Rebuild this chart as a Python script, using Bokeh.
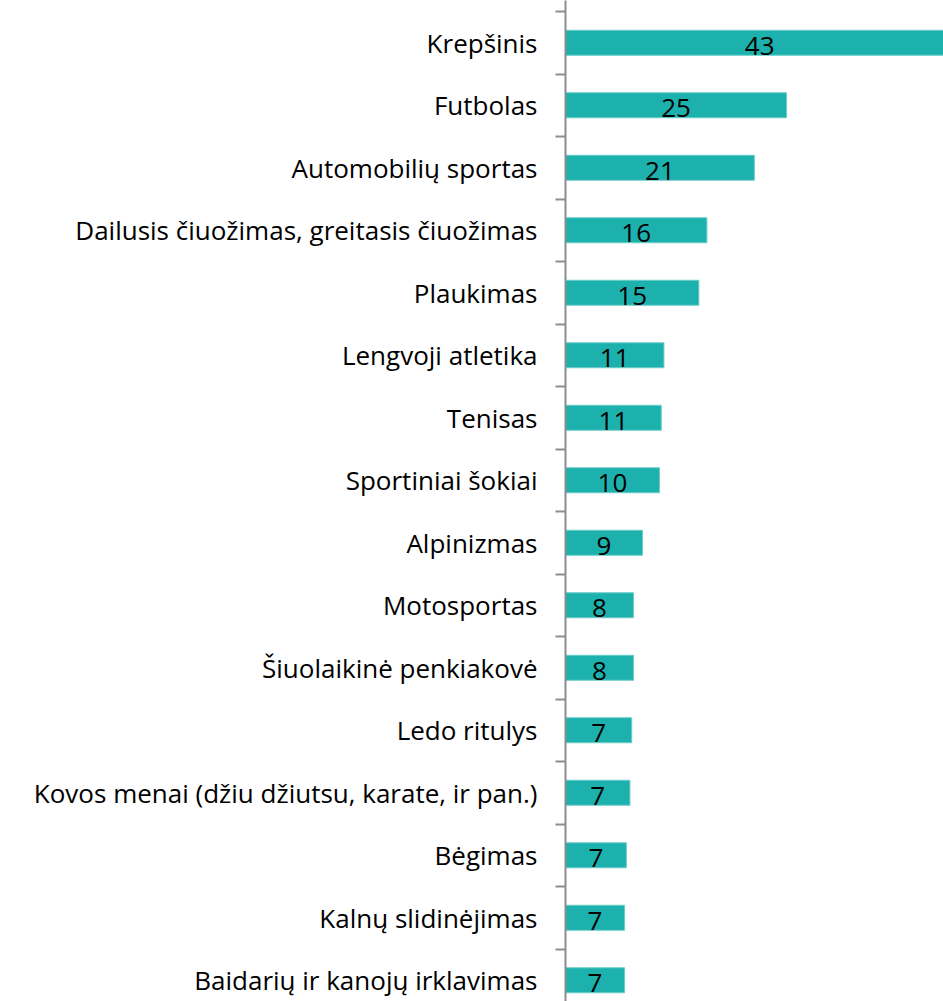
from bokeh.plotting import figure
from bokeh.models import Range1d, FixedTicker, ColumnDataSource
from bokeh.core.properties import value
from bokeh.embed import file_html
from bokeh.resources import INLINE

categories = [
    "Krepšinis",
    "Futbolas",
    "Automobilių sportas",
    "Dailusis čiuožimas, greitasis čiuožimas",
    "Plaukimas",
    "Lengvoji atletika",
    "Tenisas",
    "Sportiniai šokiai",
    "Alpinizmas",
    "Motosportas",
    "Šiuolaikinė penkiakovė",
    "Ledo ritulys",
    "Kovos menai (džiu džiutsu, karate, ir pan.)",
    "Bėgimas",
    "Kalnų slidinėjimas",
    "Baidarių ir kanojų irklavimas",
]
values = [43.4, 24.7, 21.1, 15.8, 14.9, 11.0, 10.7, 10.5, 8.6, 7.6, 7.6, 7.4, 7.2, 6.8, 6.6, 6.6]

n = len(categories)
pos = list(range(n))
labels = [str(int(round(v))) for v in values]

src = ColumnDataSource(dict(y=pos, v=values, half=[v / 2 for v in values], lab=labels))

# frame spans 565..943 px horizontally; category centres every 62.5 px starting at 42.25 px
p = figure(
    width=943, height=1001,
    x_range=Range1d(0, 378 / 8.95),
    y_range=Range1d((1001 - 42.25) / 62.5, -42.25 / 62.5),
    output_backend="svg", toolbar_location=None,
    x_axis_location=None,
    min_border_left=565, min_border_right=0, min_border_top=0, min_border_bottom=0,
)
p.outline_line_color = None
p.xgrid.visible = False
p.ygrid.visible = False

p.hbar(y="y", right="v", left=0, height=0.4, source=src,
       fill_color="#1DB1AD", line_color="#6CCDC9", line_width=1)
p.text(x="half", y="y", text="lab", source=src, text_align="center",
       text_baseline="alphabetic", y_offset=3,
       text_font=value("Open Sans"), text_font_size="26px", text_color="#000000")

ax = p.yaxis[0]
ax.ticker = FixedTicker(ticks=pos, minor_ticks=[i - 0.5 for i in range(n + 1)])
ax.major_label_overrides = {i: c for i, c in enumerate(categories)}
ax.major_tick_line_color = None
ax.major_tick_out = 0
ax.major_tick_in = 0
ax.minor_tick_out = 10
ax.minor_tick_in = 0
ax.minor_tick_line_color = "#8c8c8c"
ax.minor_tick_line_width = 2
ax.axis_line_color = "#8c8c8c"
ax.axis_line_width = 2
ax.major_label_standoff = 18
ax.major_label_text_font = "Open Sans"
ax.major_label_text_font_size = "26px"
ax.major_label_text_color = "#000000"

open("out.html", "w").write(file_html(p, INLINE))
